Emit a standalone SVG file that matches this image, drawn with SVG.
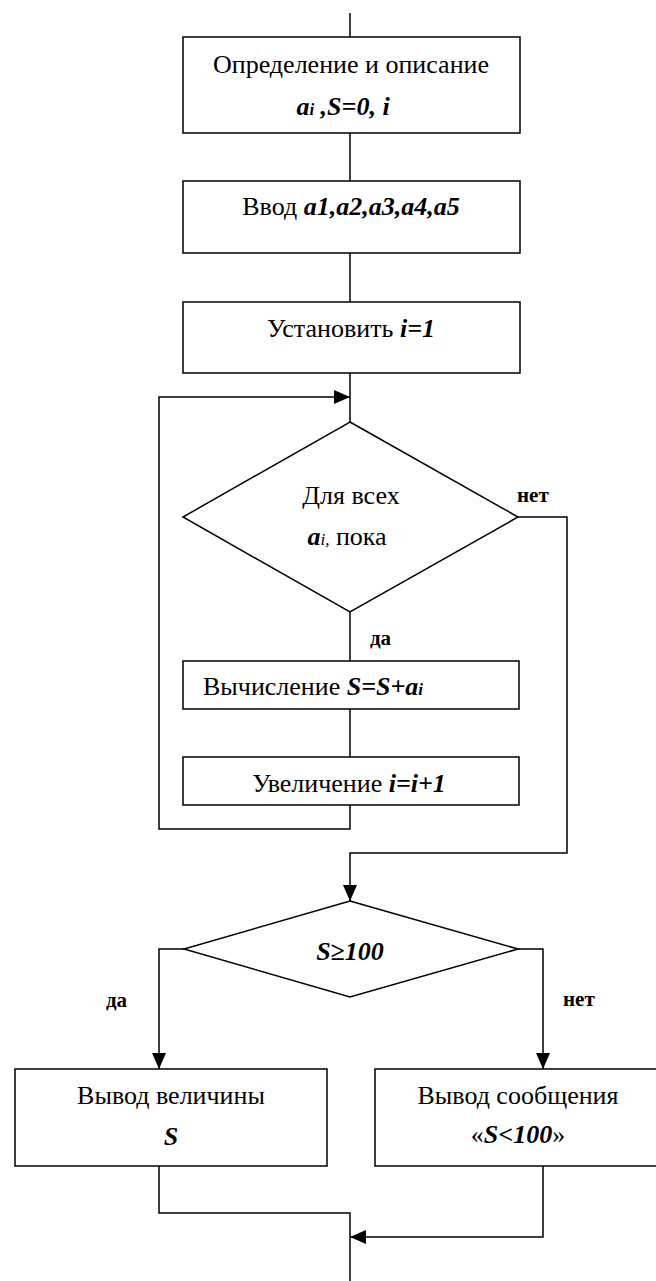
<svg xmlns="http://www.w3.org/2000/svg" width="656" height="1281" viewBox="0 0 656 1281">
<style>
.box{fill:#fff;stroke:#000;stroke-width:1.5}
.ln{fill:none;stroke:#000;stroke-width:1.5}
text{font-family:'Liberation Serif','Times New Roman',Times,'DejaVu Serif','Noto Serif',serif;fill:#000}
.t{font-size:26px}
.bi{font-weight:bold;font-style:italic}
.lbl{font-size:21px;font-weight:bold}
</style>
<defs>
<marker id="ah" viewBox="0 0 16 14" refX="16" refY="7" markerWidth="16" markerHeight="14" markerUnits="userSpaceOnUse" orient="auto">
<path d="M0,0 L16,7 L0,14 Z" fill="#000"/>
</marker>
</defs>
<rect width="656" height="1281" fill="#fff"/>
<g id="connectors">
<line class="ln" x1="350" y1="13" x2="350" y2="37"/>
<line class="ln" x1="350" y1="133" x2="350" y2="181"/>
<line class="ln" x1="350" y1="253" x2="350" y2="302"/>
<line class="ln" x1="350" y1="373" x2="350" y2="422"/>
<line class="ln" x1="350" y1="612" x2="350" y2="661"/>
<line class="ln" x1="350" y1="709" x2="350" y2="757"/>
<polyline class="ln" points="350,805 350,829 159,829 159,397 350,397" marker-end="url(#ah)"/>
<polyline class="ln" points="518,517 567,517 567,853 350,853 350,901" marker-end="url(#ah)"/>
<polyline class="ln" points="184,949 159,949 159,1069" marker-end="url(#ah)"/>
<polyline class="ln" points="518,949 543,949 543,1069" marker-end="url(#ah)"/>
<polyline class="ln" points="159,1166 159,1213 350,1213 350,1281"/>
<polyline class="ln" points="543,1166 543,1237 350,1237" marker-end="url(#ah)"/>
<text class="lbl" x="517" y="502" font-family="Liberation Serif, serif">нет</text>
<text class="lbl" x="370" y="645" font-family="Liberation Serif, serif">да</text>
<text class="lbl" x="106" y="1007" font-family="Liberation Serif, serif">да</text>
<text class="lbl" x="563" y="1006" font-family="Liberation Serif, serif">нет</text>
</g>
<g id="n1">
<rect class="box" x="183" y="37" width="337" height="96"/>
<text class="t" x="351" y="73" text-anchor="middle" font-family="Liberation Serif, serif">Определение и описание</text>
<text class="t" x="343" y="115" text-anchor="middle" font-family="Liberation Serif, serif"><tspan class="bi">a</tspan><tspan class="bi" font-size="17">i</tspan><tspan class="bi"> ,S=0, i</tspan></text>
</g>
<g id="n2">
<rect class="box" x="183" y="181" width="337" height="72"/>
<text class="t" x="351" y="215" text-anchor="middle" font-family="Liberation Serif, serif">Ввод <tspan class="bi">a1,a2,a3,a4,a5</tspan></text>
</g>
<g id="n3">
<rect class="box" x="183" y="302" width="337" height="71"/>
<text class="t" x="351" y="337" text-anchor="middle" font-family="Liberation Serif, serif">Установить <tspan class="bi">i=1</tspan></text>
</g>
<g id="d1">
<polygon class="box" points="350,422 518,517 350,612 183,517"/>
<text class="t" x="351" y="504" text-anchor="middle" font-family="Liberation Serif, serif">Для всех</text>
<text class="t" x="347" y="545" text-anchor="middle" font-family="Liberation Serif, serif"><tspan class="bi">a</tspan><tspan font-style="italic" font-size="17">i,</tspan> пока</text>
</g>
<g id="n4">
<rect class="box" x="183" y="661" width="336" height="48"/>
<text class="t" x="203" y="695" font-family="Liberation Serif, serif">Вычисление <tspan class="bi">S=S+a</tspan><tspan class="bi" font-size="17">i</tspan></text>
</g>
<g id="n5">
<rect class="box" x="183" y="757" width="336" height="48"/>
<text class="t" x="349" y="792" text-anchor="middle" font-family="Liberation Serif, serif">Увеличение <tspan class="bi">i=i+1</tspan></text>
</g>
<g id="d2">
<polygon class="box" points="350,901 518,949 350,997 184,949"/>
<text class="t bi" x="350" y="960" text-anchor="middle" font-family="Liberation Serif, serif">S≥100</text>
</g>
<g id="n6">
<rect class="box" x="15" y="1069" width="312" height="97"/>
<text class="t" x="171" y="1104" text-anchor="middle" font-family="Liberation Serif, serif">Вывод величины</text>
<text class="t bi" x="171" y="1145" text-anchor="middle" font-family="Liberation Serif, serif">S</text>
</g>
<g id="n7">
<rect class="box" x="375" y="1069" width="290" height="97"/>
<text class="t" x="518" y="1104" text-anchor="middle" font-family="Liberation Serif, serif">Вывод сообщения</text>
<text class="t" x="518" y="1143" text-anchor="middle" font-family="Liberation Serif, serif">«<tspan class="bi">S&lt;100</tspan>»</text>
</g>
</svg>
